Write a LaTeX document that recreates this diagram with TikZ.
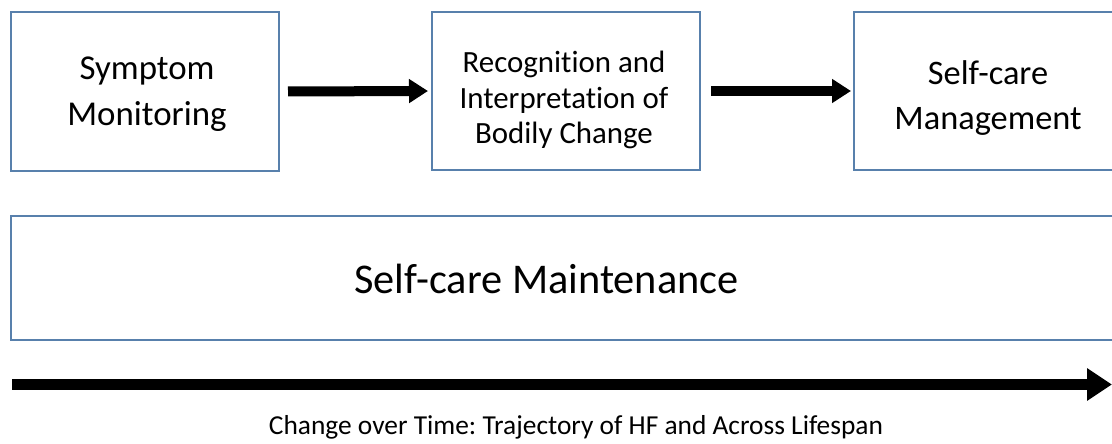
\documentclass[tikz,border=0pt]{standalone}
\usepackage{fontspec}
\setmainfont{Carlito}[Ligatures=NoCommon]
\usetikzlibrary{arrows.meta}
\definecolor{boxline}{RGB}{88,128,172}
\frenchspacing
\tikzset{
  stagebox/.style={draw=boxline, line width=2bp, fill=white, inner sep=0pt},
  stagetext/.style={align=center, inner sep=0pt},
  flowarrow/.style={line width=10bp, -{Triangle[length=19bp,width=23bp]}},
  timearrow/.style={line width=11bp, -{Triangle[length=25bp,width=31bp]}},
}
\begin{document}
\begin{tikzpicture}[x=1bp,y=-1bp]
  \useasboundingbox (0,0) rectangle (1112,444);
  % top row of stages
  \node[stagebox, minimum width=268bp, minimum height=159bp] (sm) at (145,91.5) {};
  \node[stagebox, minimum width=268bp, minimum height=158bp] (ri) at (566,91) {};
  \node[stagebox, minimum width=272bp, minimum height=158bp] (mg) at (990,91) {};
  \node[stagetext, font=\fontsize{35}{46}\selectfont] (smt) at (147,94) {Symptom\\Monitoring};
  \node[stagetext, font=\fontsize{31}{35.5}\selectfont] (rit) at (564,100) {Recognition and\\Interpretation of\\Bodily Change};
  \node[stagetext, font=\fontsize{34.5}{46}\selectfont] (mgt) at (988,98) {Self-care\\Management};
  % maintenance band
  \node[stagebox, minimum width=1114bp, minimum height=124bp] (mt) at (568,278) {};
  \node[font=\fontsize{42.5}{50}\selectfont] (mtl) at (546.5,279) {Self-care Maintenance};
  % flow between stages
  \draw[flowarrow, shorten <=8bp, shorten >=3bp] (sm.east) -- (ri.west);
  \draw[flowarrow, shorten <=10bp, shorten >=2bp] (ri.east) -- (mg.west);
  % time axis
  \coordinate (t0) at (12,384.5);
  \coordinate (t1) at (1112,384.5);
  \draw[timearrow] (t0) -- (t1);
  \node[font=\fontsize{27.5}{33}\selectfont] (tl) at (576,427) {Change over Time: Trajectory of HF and Across Lifespan};
\end{tikzpicture}
\end{document}
